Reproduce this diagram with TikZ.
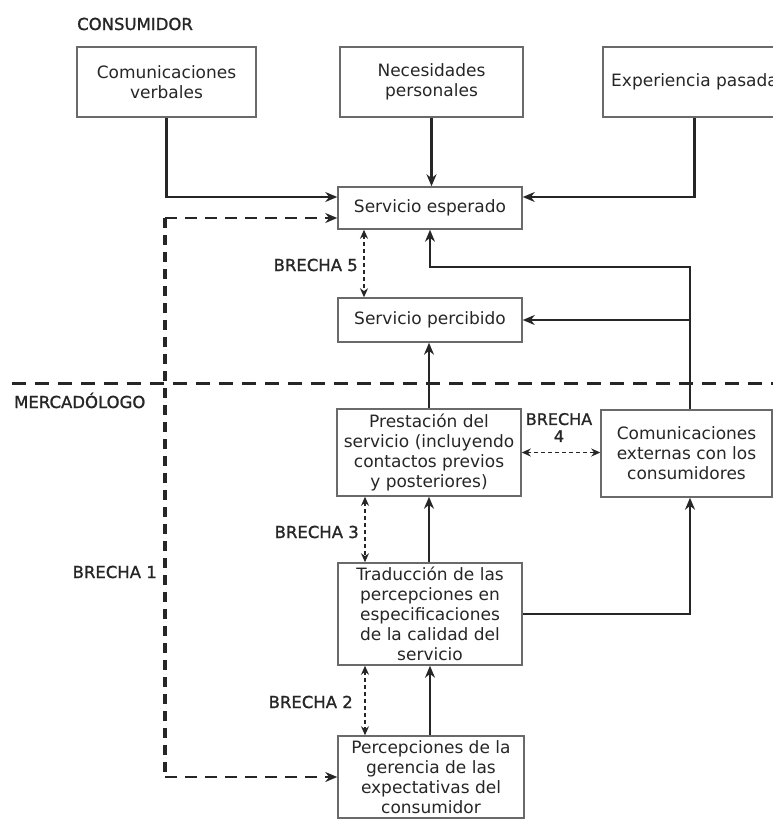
\documentclass[tikz,border=0pt]{standalone}
\usepackage{fontspec}
\setmainfont{DejaVu Sans}
\newfontfamily\labelfont[FakeBold=1.2]{DejaVu Sans}
\usetikzlibrary{arrows.meta}
\definecolor{ink}{HTML}{262626}
\definecolor{frame}{HTML}{6A6A6A}
\tikzset{
  box/.style={draw=frame, line width=1.5pt, align=center, inner sep=0pt, text=ink,
    font=\fontsize{17}{20}\selectfont},
  lbl/.style={text=ink, inner sep=0pt, font=\labelfont\fontsize{16.5}{20}\selectfont},
  flow/.style={draw=ink, line width=2.6pt, -{Stealth[length=12pt,width=10pt]}},
  dashflow/.style={draw=ink, line width=2.6pt, dash pattern=on 12pt off 8pt,
    -{Stealth[length=12pt,width=10pt]}},
  dashline/.style={draw=ink, line width=3.8pt, dash pattern=on 10pt off 7pt},
  divider/.style={draw=ink, line width=3pt, dash pattern=on 14pt off 9pt},
  gap/.style={draw=ink, line width=1.5pt, dash pattern=on 4pt off 3pt,
    {Stealth[length=9pt,width=8pt]}-{Stealth[length=9pt,width=8pt]}},
}
\begin{document}
\begin{tikzpicture}[x=1pt,y=-1pt]
\useasboundingbox (0,0) rectangle (773,819);
\clip (0,0) rectangle (773,819);

% consumer side
\node[lbl, anchor=base west] (consumidor) at (77,30) {CONSUMIDOR};
\node[box, minimum width=179pt, minimum height=70pt] (cv)  at (166.5,82) {Comunicaciones\\verbales};
\node[box, minimum width=183pt, minimum height=70pt] (nec) at (431.5,82) {Necesidades\\personales};
\node[box, minimum width=183pt, minimum height=70pt] (exp) at (694.5,82) {Experiencia pasada};
\node[box, minimum width=184pt, minimum height=42pt] (se)  at (430,208) {Servicio esperado};
\node[box, minimum width=184pt, minimum height=44pt] (sp)  at (430,320) {Servicio percibido};

% marketer side
\node[lbl, anchor=base west] (mercadologo) at (14,408) {MERCADÓLOGO};
\node[box, minimum width=184pt, minimum height=87pt] (pr) at (429,452.5)
  {Prestación del\\servicio (incluyendo\\contactos previos\\y posteriores)};
\node[box, minimum width=171pt, minimum height=87pt] (ce) at (686.5,453.5)
  {Comunicaciones\\externas con los\\consumidores};
\node[box, minimum width=184pt, minimum height=102pt] (tr) at (430,614)
  {Traducción de las\\percepciones en\\especificaciones\\de la calidad del\\servicio};
\node[box, minimum width=186pt, minimum height=82pt] (pe) at (431,777)
  {Percepciones de la\\gerencia de las\\expectativas del\\consumidor};

% gap labels
\node[lbl, anchor=east] (b5) at (358,265) {BRECHA 5};
\node[lbl, align=center, font=\labelfont\fontsize{16}{17}\selectfont] (b4) at (559,427.5) {BRECHA\\4};
\node[lbl, anchor=east] (b3) at (359,532) {BRECHA 3};
\node[lbl, anchor=east] (b2) at (353,702) {BRECHA 2};
\node[lbl, anchor=east] (b1) at (157,572) {BRECHA 1};

% helper points
\coordinate (k1) at (0,197);
\coordinate (c1) at (165,218);
\coordinate (c2) at (165,777);
\coordinate (rt) at (690,267);
\coordinate (gx) at (364,0);
\coordinate (gy) at (365,0);
\coordinate (divL) at (12,383);
\coordinate (divR) at (773,383);

% consumer/marketer divider
\draw[divider] (divL) -- (divR);

% expectations feeding the expected service
\draw[flow] (cv.south) |- (k1 -| se.west);
\draw[flow] (nec.south) -- (nec.south |- se.north);
\draw[flow] (exp.south) |- (k1 -| se.east);

% gap 1 loop
\draw[dashflow] (c1) -- (c1 -| se.west);
\draw[dashline] (c1) -- (c2);
\draw[dashflow] (c2) -- (c2 -| pe.west);

% external communications feedback
\draw[flow] (ce.north -| rt) -- (rt) -| (se.south);
\draw[flow] (rt |- sp.east) -- (sp.east);
\draw[flow] (tr.east) -| (ce.south -| rt);

% main vertical chain
\draw[flow] (pr.north) -- (pr.north |- sp.south);
\draw[flow] (tr.north -| pr.north) -- (pr.south);
\draw[flow] (pe.north -| tr.north) -- (tr.south);

% gap arrows
\draw[gap] (se.south -| gx) -- (sp.north -| gx);
\draw[gap] (pr.east) -- (pr.east -| ce.west);
\draw[gap] (pr.south -| gy) -- (tr.north -| gy);
\draw[gap] (tr.south -| gy) -- (pe.north -| gy);
\end{tikzpicture}
\end{document}
